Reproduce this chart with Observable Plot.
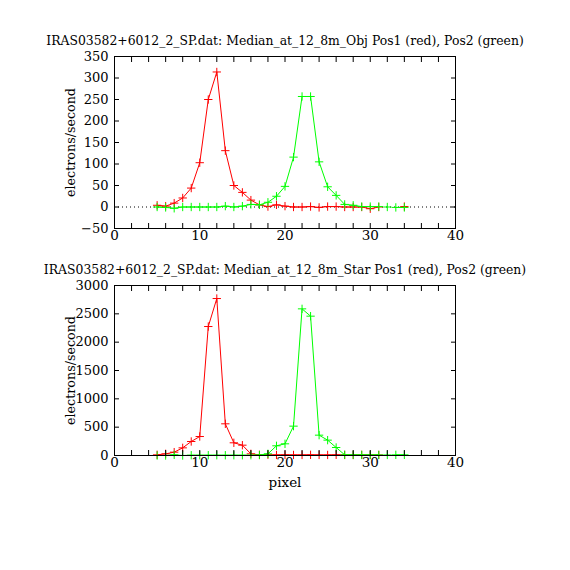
<!DOCTYPE html>
<html>
<head>
<meta charset="utf-8">
<script src="https://cdn.jsdelivr.net/npm/d3@7"></script>
<script src="https://cdn.jsdelivr.net/npm/@observablehq/plot@0.6"></script>
<style>
  html, body { margin: 0; padding: 0; background: white; }
  #chart { width: 570px; height: 570px; background: white; }
  #chart svg { display: block; }
</style>
</head>
<body>
<div id="chart"></div>
<script>
// ---- data ----
const pixels = d3.range(5, 35); // 5..34

const objTitle = "IRAS03582+6012_2_SP.dat: Median_at_12_8m_Obj Pos1 (red), Pos2 (green)";
const starTitle = "IRAS03582+6012_2_SP.dat: Median_at_12_8m_Star Pos1 (red), Pos2 (green)";

// top panel (Obj)
const objPos1 = [4, 2, 9, 21, 44, 103, 250, 314, 131, 50, 34, 16, 5, 1, 5, 2, 0, 0, 1, -1, 1, 1, 0, 0, 0, -4, 0, null, null, 1];
const objPos2 = [0, -1, -3, 0, 0, 0, 0, 0, 2, 0, 2, 6, 5, 11, 25, 48, 116, 257, 257, 105, 47, 27, 6, 4, 1, 1, 1, 0, -1, -1];

// bottom panel (Star)
const starPos1 = [12, 29, 59, 135, 247, 335, 2276, 2770, 559, 224, 182, 29, 12, 12, 10, 12, 10, 10, 12, 10, 10, 12, 10, 10, 12, 10, 10, null, null, null];
const starPos2 = [0, 0, 12, 0, 5, 5, 5, 5, 5, 5, 5, 5, 8, 29, 171, 206, 518, 2588, 2459, 359, 271, 141, 12, 10, 10, 10, 10, 10, 12, 12];

// line breaks (no connecting segment after these pixels)
const pos1Breaks = [31, 33];
const pos2Breaks = [31, 32];

const xDomain = [0, 40];
const xMinorTicks = d3.range(0, 41, 2);
const xLabelTicks = [0, 10, 20, 30, 40];
const objYDomain = [-50, 350];
const objYTicks = [-50, 0, 50, 100, 150, 200, 250, 300, 350];
const starYDomain = [0, 3000];
const starYTicks = [0, 500, 1000, 1500, 2000, 2500, 3000];

function rows(values, breaks) {
  return pixels.map((p, i) => ({
    x: p,
    y: values[i],
    seg: breaks.filter(b => b < p).length
  })).filter(d => d.y !== null);
}

function panel({title, pos1, pos2, yDomain, yTicks, height, marginTop, marginBottom, zeroLine, xLabel}) {
  const red = rows(pos1, pos1Breaks);
  const green = rows(pos2, pos2Breaks);
  const font = "DejaVu Serif";
  return Plot.plot({
    width: 570,
    height,
    marginLeft: 114,
    marginRight: 115,
    marginTop,
    marginBottom,
    style: {fontFamily: font, fontSize: "12px", background: "white", color: "black"},
    x: {domain: xDomain},
    y: {domain: yDomain},
    marks: [
      zeroLine ? Plot.ruleY([0], {stroke: "black", strokeDasharray: "1,3"}) : null,
      Plot.line(red, {x: "x", y: "y", z: "seg", stroke: "#ff0000", strokeWidth: 1}),
      Plot.dot(red, {x: "x", y: "y", symbol: "plus", r: 2.8, stroke: "#ff0000", strokeWidth: 1}),
      Plot.line(green, {x: "x", y: "y", z: "seg", stroke: "#00ff00", strokeWidth: 1}),
      Plot.dot(green, {x: "x", y: "y", symbol: "plus", r: 2.8, stroke: "#00ff00", strokeWidth: 1}),
      Plot.frame({stroke: "black"}),
      Plot.axisX({anchor: "bottom", ticks: xMinorTicks, tickSize: -5, tickFormat: () => "", label: null}),
      Plot.axisX({anchor: "top", ticks: xMinorTicks, tickSize: -5, tickFormat: () => "", label: null}),
      Plot.axisX({anchor: "bottom", ticks: xLabelTicks, tickSize: 0, tickPadding: 2, fontSize: 13.5, tickFormat: d3.format("d"), label: null}),
      Plot.axisY({anchor: "left", ticks: yTicks, tickSize: -5, tickFormat: () => "", label: null}),
      Plot.axisY({anchor: "right", ticks: yTicks, tickSize: -5, tickFormat: () => "", label: null}),
      Plot.axisY({anchor: "left", ticks: yTicks, tickSize: 0, tickPadding: 6, fontSize: 13, tickFormat: d3.format("d"), label: null}),
      Plot.text(["electrons/second"], {frameAnchor: "left", dx: -44, rotate: -90, fontSize: 12.7, textAnchor: "middle", lineAnchor: "middle"}),
      Plot.text([title], {frameAnchor: "top", dy: -12, lineAnchor: "bottom", textAnchor: "middle", fontSize: 12.4}),
      xLabel ? Plot.text([xLabel], {frameAnchor: "bottom", dy: 27, lineAnchor: "middle", textAnchor: "middle", fontSize: 13.5}) : null
    ]
  });
}

const chart = document.getElementById("chart");
chart.append(panel({
  title: objTitle, pos1: objPos1, pos2: objPos2,
  yDomain: objYDomain, yTicks: objYTicks,
  height: 250, marginTop: 56, marginBottom: 22, zeroLine: true, xLabel: null
}));
chart.append(panel({
  title: starTitle, pos1: starPos1, pos2: starPos2,
  yDomain: starYDomain, yTicks: starYTicks,
  height: 320, marginTop: 35, marginBottom: 115, zeroLine: false, xLabel: "pixel"
}));
</script>
</body>
</html>
